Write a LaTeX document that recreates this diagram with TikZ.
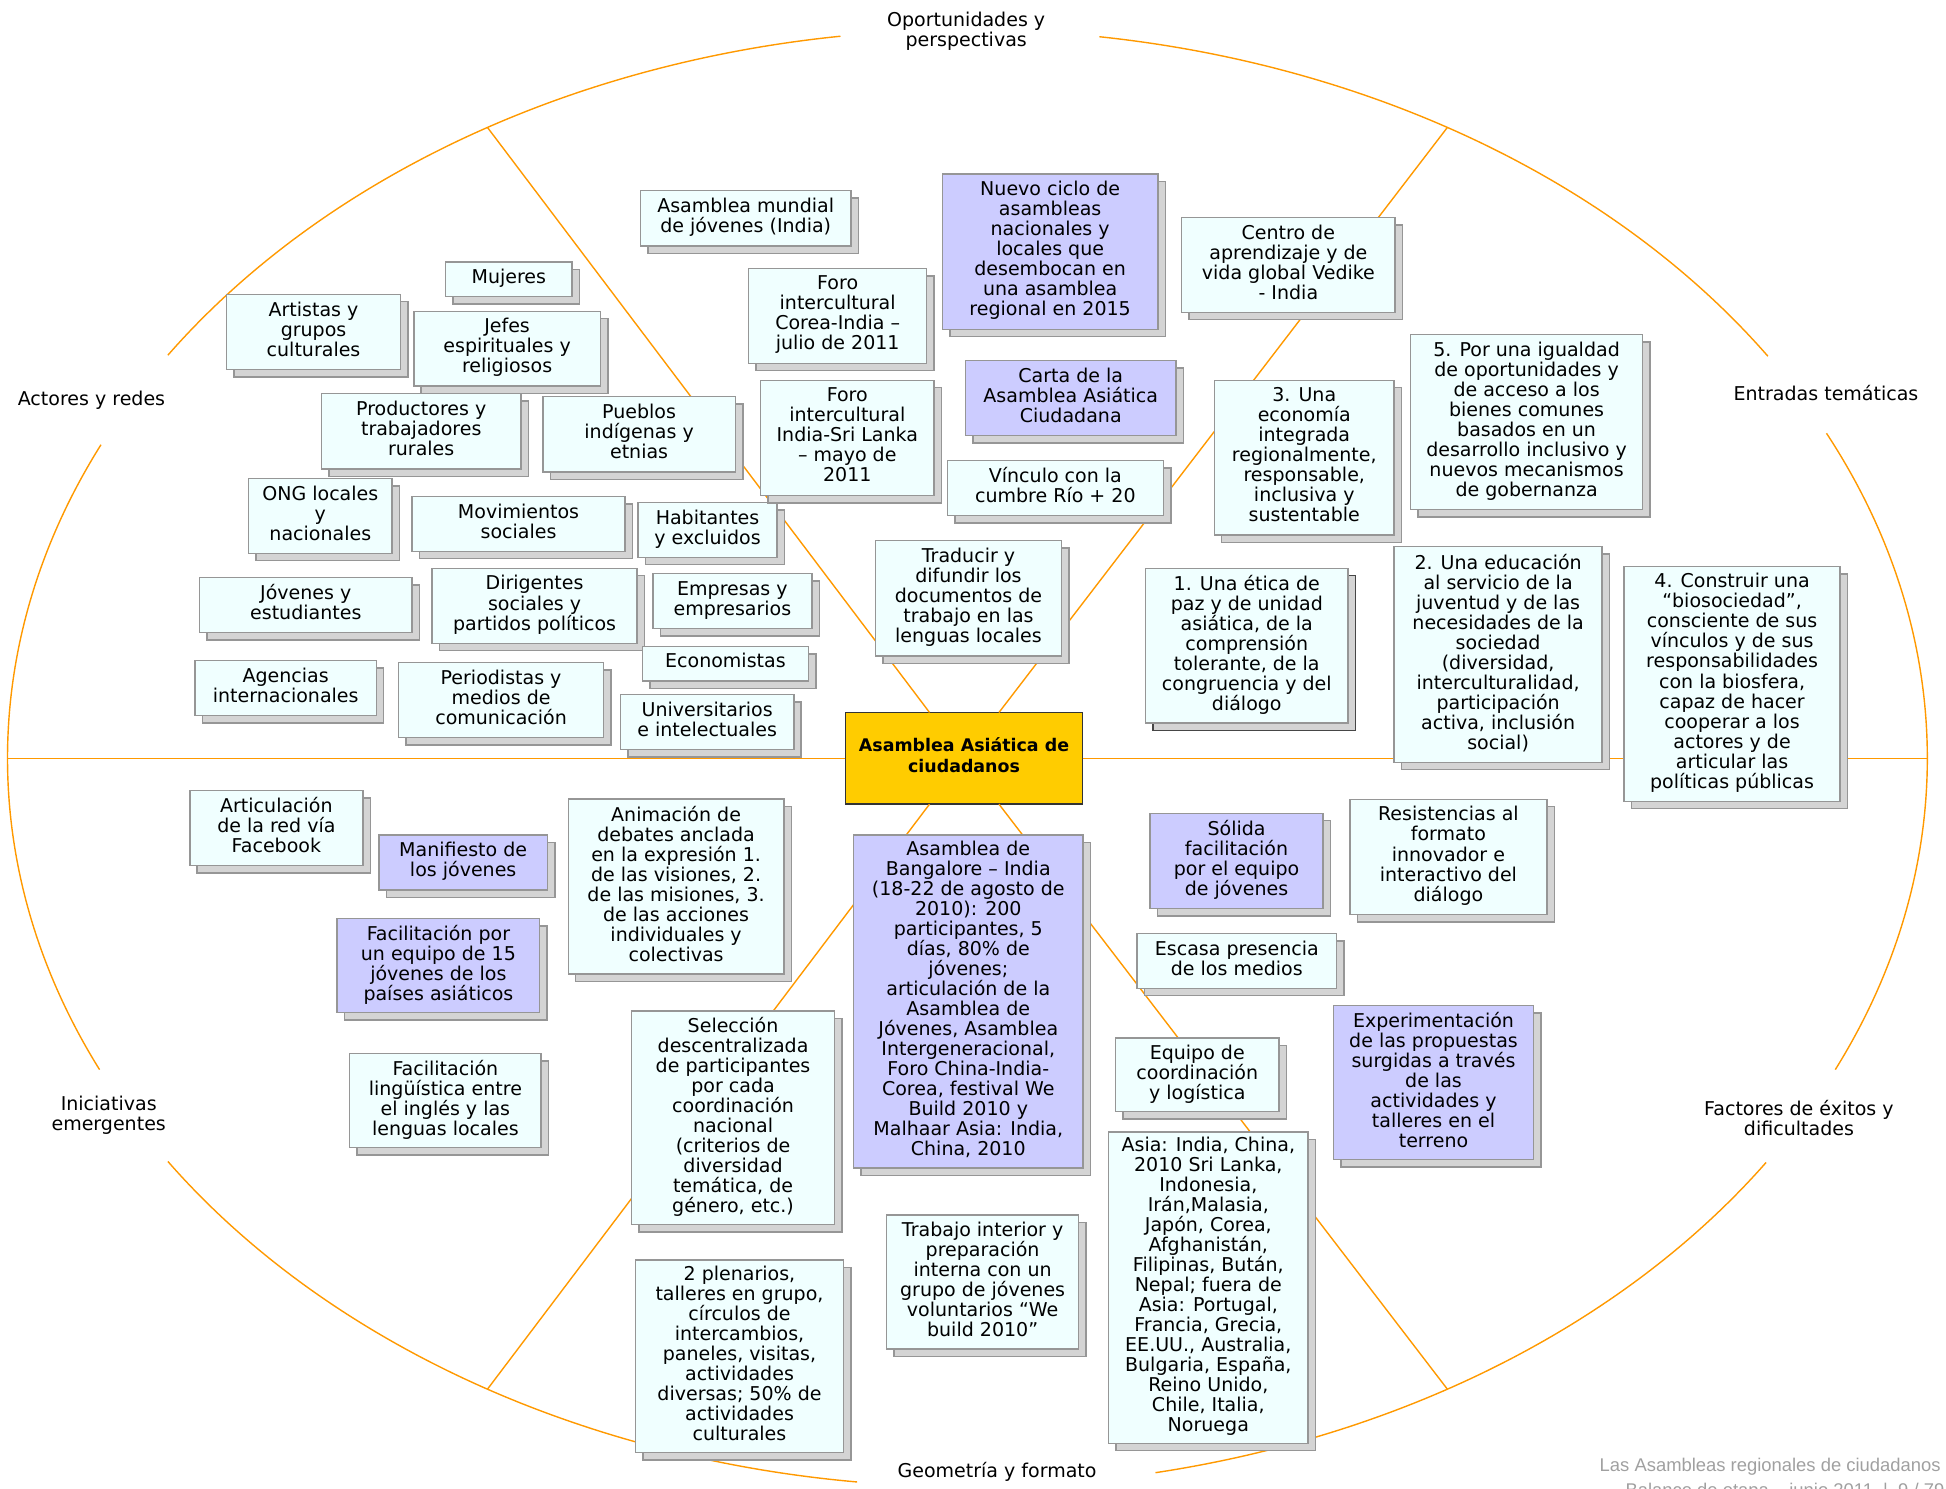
\documentclass[tikz,border=0pt]{standalone}
\usepackage{fontspec}
\setmainfont{DejaVu Sans}
\newfontfamily\footfont{Liberation Sans}
\usetikzlibrary{shadows}
\definecolor{orng}{RGB}{255,153,0}
\definecolor{bxdraw}{RGB}{150,150,150}
\definecolor{shfill}{RGB}{212,212,212}
\definecolor{shdraw}{RGB}{150,150,150}
\definecolor{shdark}{RGB}{70,70,70}
\definecolor{azur}{RGB}{240,255,255}
\definecolor{lila}{RGB}{204,204,255}
\definecolor{goldc}{RGB}{255,204,0}
\definecolor{footgray}{RGB}{160,160,160}
\tikzset{
  spoke/.style={draw=orng, line width=0.7pt},
  normsh/.style={shadow xshift=3.72pt, shadow yshift=-3.72pt, fill=shfill, draw=shdraw, line width=0.75pt, opacity=1},
  darksh/.style={shadow xshift=3.72pt, shadow yshift=-3.72pt, fill=shfill, draw=shdark, line width=0.75pt, opacity=1},
  boxbase/.style={rectangle, draw=bxdraw, line width=0.75pt, inner sep=1pt, outer sep=0pt, align=center, font=\fontsize{9.5}{10}\selectfont, execute at begin node=\strut, execute at end node=\strut},
  cy/.style={boxbase, fill=azur, drop shadow={normsh}},
  pu/.style={boxbase, fill=lila, drop shadow={normsh}},
  cyd/.style={boxbase, fill=azur, drop shadow={darksh}},
  lbl/.style={align=center, inner sep=0pt, font=\fontsize{9.5}{10}\selectfont},
  central/.style={rectangle, draw=black!80, fill=goldc, line width=0.75pt, outer sep=0pt, align=center, font=\bfseries\fontsize{8.7}{10.5}\selectfont, execute at begin node=\strut, execute at end node=\strut},
  footer/.style={inner sep=0pt, text=footgray, font=\footfont\fontsize{9.2}{11}\selectfont}
}
\newcommand\bx[7]{\node[#6, minimum width={(#4-#2)*0.62pt}, minimum height={(#5-#3)*0.62pt}] (#1) at ({(#2+#4)/2},{(#3+#5)/2}) {#7};}
\begin{document}
\begin{tikzpicture}[x=0.62pt, y=-0.62pt]
\useasboundingbox (0,0) rectangle (1568,1199);

% ellipse arcs
\begin{scope}[spoke]
\draw (779.5,611) ++(-146.4:773.5 and 587) arc[start angle=-146.4, end angle=-97.6, x radius=773.5, y radius=587];
\draw (779.5,611) ++(-82.1:773.5 and 587) arc[start angle=-82.1, end angle=-33.5, x radius=773.5, y radius=587];
\draw (779.5,611) ++(-26.5:773.5 and 587) arc[start angle=-26.5, end angle=25.3, x radius=773.5, y radius=587];
\draw (779.5,611) ++(33.7:773.5 and 587) arc[start angle=33.7, end angle=78.7, x radius=773.5, y radius=587];
\draw (779.5,611) ++(96.6:773.5 and 587) arc[start angle=96.6, end angle=146.4, x radius=773.5, y radius=587];
\draw (779.5,611) ++(154.7:773.5 and 587) arc[start angle=154.7, end angle=205.5, x radius=773.5, y radius=587];
\end{scope}

\coordinate (ul) at ([shift={(-120:773.5 and 587)}]779.5,611);
\coordinate (ur) at ([shift={(-60:773.5 and 587)}]779.5,611);
\coordinate (ll) at ([shift={(120:773.5 and 587)}]779.5,611);
\coordinate (lr) at ([shift={(60:773.5 and 587)}]779.5,611);
\coordinate (west) at (6,611);
\coordinate (east) at (1553,611);

% central node
\node[central, minimum width={191.1*0.62pt}, minimum height={73.9*0.62pt}] (central) at (776.75,611) {Asamblea Asiática de\\ciudadanos};

% spokes
\draw[spoke] (central) -- (ul);
\draw[spoke] (central) -- (ur);
\draw[spoke] (central) -- (ll);
\draw[spoke] (central) -- (lr);
\draw[spoke] (central.west) -- (west);
\draw[spoke] (central.east) -- (east);

% section labels
\node[lbl] (lopo) at (778.5,25.1) {Oportunidades y\\perspectivas};
\node[lbl] (lact) at (73.7,322.3) {Actores y redes};
\node[lbl] (lent) at (1471.3,317) {Entradas temáticas};
\node[lbl] (lini) at (87.6,898.7) {Iniciativas\\emergentes};
\node[lbl] (lfac) at (1449.5,900.8) {Factores de éxitos y\\dificultades};
\node[lbl] (lgeo) at (803.4,1186.3) {Geometría y formato};

% actors
\bx{mujeres}{359}{211}{461}{239}{cy}{Mujeres}
\bx{artistas}{182.7}{237.1}{322.6}{297.6}{cy}{Artistas y\\grupos\\culturales}
\bx{jefes}{333.4}{250.8}{483.8}{311.1}{cy}{Jefes\\espirituales y\\religiosos}
\bx{productores}{259}{317.2}{419.8}{377.9}{cy}{Productores y\\trabajadores\\rurales}
\bx{pueblos}{437.4}{319.6}{592.5}{380.3}{cy}{Pueblos\\indígenas y\\etnias}
\bx{ong}{200.4}{385.7}{315.8}{445.8}{cy}{ONG locales\\y\\nacionales}
\bx{movimientos}{332}{399.9}{503.6}{444.2}{cy}{Movimientos\\sociales}
\bx{habitantes}{514}{405}{626.2}{449}{cy}{Habitantes\\y excluidos}
\bx{jovenes}{160.8}{465.5}{332}{509.8}{cy}{Jóvenes y\\estudiantes}
\bx{dirigentes}{348.2}{457.9}{513.3}{518.3}{cy}{Dirigentes\\sociales y\\partidos políticos}
\bx{empresas}{526}{462.2}{654.3}{506.6}{cy}{Empresas y\\empresarios}
\bx{economistas}{517.6}{520.8}{651.4}{548.7}{cy}{Economistas}
\bx{agencias}{157.2}{532.3}{303.2}{576.7}{cy}{Agencias\\internacionales}
\bx{periodistas}{321.2}{533.7}{486.3}{594.1}{cy}{Periodistas y\\medios de\\comunicación}
\bx{universitarios}{500}{559.7}{639.6}{603.8}{cy}{Universitarios\\e intelectuales}

% opportunities
\bx{mundial}{516.1}{153.6}{685.6}{198.2}{cy}{Asamblea mundial\\de jóvenes (India)}
\bx{forocorea}{603.2}{216.2}{746.7}{292.7}{cy}{Foro\\intercultural\\Corea-India –\\julio de 2011}
\bx{nuevo}{759.3}{140.2}{933}{265.3}{pu}{Nuevo ciclo de\\asambleas\\nacionales y\\locales que\\desembocan en\\una asamblea\\regional en 2015}
\bx{centro}{952.1}{175.4}{1124.1}{251.6}{cy}{Centro de\\aprendizaje y de\\vida global Vedike\\- India}
\bx{carta}{778}{290.6}{947.5}{351}{pu}{Carta de la\\Asamblea Asiática\\Ciudadana}
\bx{forosri}{612.9}{306.4}{752.5}{399.1}{cy}{Foro\\intercultural\\India-Sri Lanka\\– mayo de\\2011}
\bx{vinculo}{763.3}{371.2}{937.4}{415.5}{cy}{Vínculo con la\\cumbre Río + 20}
\bx{traducir}{705.3}{435.6}{855.4}{528.6}{cy}{Traducir y\\difundir los\\documentos de\\trabajo en las\\lenguas locales}

% thematic
\bx{economia}{978.4}{306.4}{1123.4}{431.1}{cy}{3. Una\\economía\\integrada\\regionalmente,\\responsable,\\inclusiva y\\sustentable}
\bx{igualdad}{1136.7}{269.4}{1323.4}{410.4}{cy}{5. Por una igualdad\\de oportunidades y\\de acceso a los\\bienes comunes\\basados en un\\desarrollo inclusivo y\\nuevos mecanismos\\de gobernanza}
\bx{etica}{923}{457.9}{1086.2}{582.6}{cyd}{1. Una ética de\\paz y de unidad\\asiática, de la\\comprensión\\tolerante, de la\\congruencia y del\\diálogo}
\bx{educacion}{1123.4}{440.5}{1290.8}{614.2}{cy}{2. Una educación\\al servicio de la\\juventud y de las\\necesidades de la\\sociedad\\(diversidad,\\interculturalidad,\\participación\\activa, inclusión\\social)}
\bx{biosociedad}{1308.7}{456.3}{1482.5}{645.6}{cy}{4. Construir una\\“biosociedad”,\\consciente de sus\\vínculos y de sus\\responsabilidades\\con la biosfera,\\capaz de hacer\\cooperar a los\\actores y de\\articular las\\políticas públicas}

% emerging initiatives
\bx{facebook}{152.9}{637.1}{292.5}{697.5}{cy}{Articulación\\de la red vía\\Facebook}
\bx{manifiesto}{305.4}{672.8}{441}{717.1}{pu}{Manifiesto de\\los jóvenes}
\bx{facil15}{271.6}{740.2}{434.9}{816}{pu}{Facilitación por\\un equipo de 15\\jóvenes de los\\países asiáticos}
\bx{linguistica}{281.7}{849}{436}{924.7}{cy}{Facilitación\\lingüística entre\\el inglés y las\\lenguas locales}
\bx{animacion}{457.9}{643.8}{631.6}{784.8}{cy}{Animación de\\debates anclada\\en la expresión 1.\\de las visiones, 2.\\de las misiones, 3.\\de las acciones\\individuales y\\colectivas}

% geometry and format
\bx{bangalore}{687.8}{672.8}{872.6}{941.3}{pu}{Asamblea de\\Bangalore – India\\(18-22 de agosto de\\2010): 200\\participantes, 5\\días, 80\% de\\jóvenes;\\articulación de la\\Asamblea de\\Jóvenes, Asamblea\\Intergeneracional,\\Foro China-India-\\Corea, festival We\\Build 2010 y\\Malhaar Asia: India,\\China, 2010}
\bx{seleccion}{509}{814.6}{672.3}{986.5}{cy}{Selección\\descentralizada\\de participantes\\por cada\\coordinación\\nacional\\(criterios de\\diversidad\\temática, de\\género, etc.)}
\bx{plenarios}{512.2}{1015.2}{679.5}{1170.5}{cy}{2 plenarios,\\talleres en grupo,\\círculos de\\intercambios,\\paneles, visitas,\\actividades\\diversas; 50\% de\\actividades\\culturales}
\bx{trabajo}{714.4}{979}{869.1}{1086.9}{cy}{Trabajo interior y\\preparación\\interna con un\\grupo de jóvenes\\voluntarios “We\\build 2010”}
\bx{equipo}{898.9}{836.4}{1030.5}{895.7}{cy}{Equipo de\\coordinación\\y logística}
\bx{asia}{893.2}{912.1}{1054}{1162.9}{cy}{Asia: India, China,\\2010 Sri Lanka,\\Indonesia,\\Irán,Malasia,\\Japón, Corea,\\Afghanistán,\\Filipinas, Bután,\\Nepal; fuera de\\Asia: Portugal,\\Francia, Grecia,\\EE.UU., Australia,\\Bulgaria, España,\\Reino Unido,\\Chile, Italia,\\Noruega}

% success factors
\bx{solida}{926.6}{655.3}{1066.1}{731.9}{pu}{Sólida\\facilitación\\por el equipo\\de jóvenes}
\bx{resistencias}{1087.7}{644}{1246.4}{736.7}{cy}{Resistencias al\\formato\\innovador e\\interactivo del\\diálogo}
\bx{escasa}{916.1}{752.3}{1077}{796.3}{cy}{Escasa presencia\\de los medios}
\bx{experimentacion}{1074.4}{810.3}{1235.7}{934.1}{pu}{Experimentación\\de las propuestas\\surgidas a través\\de las\\actividades y\\talleres en el\\terreno}

% footer
\node[footer, anchor=base east] (foot1) at (1564,1185.7) {Las Asambleas regionales de ciudadanos};
\node[footer, anchor=base east] (foot2) at (1567,1205.7) {Balance de etapa – junio 2011 \ | \ 9 / 79};
\end{tikzpicture}
\end{document}
